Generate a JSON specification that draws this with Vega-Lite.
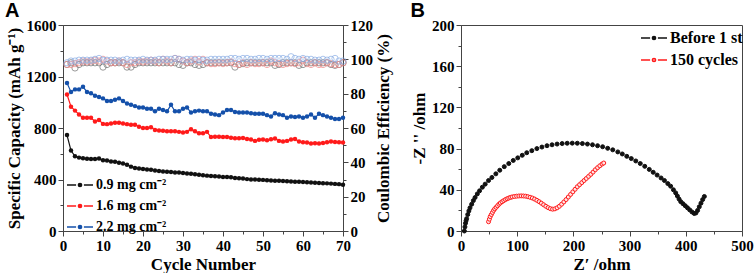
{
  "$schema": "https://vega.github.io/schema/vega-lite/v6.json",
  "padding": {"left": 4, "top": 0, "right": 5, "bottom": 0},
  "spacing": 18,
  "resolve": {"scale": {"color": "independent", "fill": "independent"}, "legend": {"color": "independent", "fill": "independent"}},
  "datasets": {
    "cap": [
      {"cycle":1,"series":"0.9 mg cm⁻²","capacity":745,"ce":97},{"cycle":2,"series":"0.9 mg cm⁻²","capacity":625,"ce":98},{"cycle":3,"series":"0.9 mg cm⁻²","capacity":580,"ce":95},{"cycle":4,"series":"0.9 mg cm⁻²","capacity":570,"ce":97},{"cycle":5,"series":"0.9 mg cm⁻²","capacity":565,"ce":98},{"cycle":6,"series":"0.9 mg cm⁻²","capacity":562,"ce":98},{"cycle":7,"series":"0.9 mg cm⁻²","capacity":560,"ce":98},{"cycle":8,"series":"0.9 mg cm⁻²","capacity":560,"ce":98},{"cycle":9,"series":"0.9 mg cm⁻²","capacity":563,"ce":98},{"cycle":10,"series":"0.9 mg cm⁻²","capacity":550,"ce":95.5},
      {"cycle":11,"series":"0.9 mg cm⁻²","capacity":548,"ce":97},{"cycle":12,"series":"0.9 mg cm⁻²","capacity":540,"ce":98},{"cycle":13,"series":"0.9 mg cm⁻²","capacity":538,"ce":98},{"cycle":14,"series":"0.9 mg cm⁻²","capacity":530,"ce":98},{"cycle":15,"series":"0.9 mg cm⁻²","capacity":525,"ce":98},{"cycle":16,"series":"0.9 mg cm⁻²","capacity":515,"ce":95.5},{"cycle":17,"series":"0.9 mg cm⁻²","capacity":500,"ce":95.5},{"cycle":18,"series":"0.9 mg cm⁻²","capacity":490,"ce":97},{"cycle":19,"series":"0.9 mg cm⁻²","capacity":485,"ce":98},{"cycle":20,"series":"0.9 mg cm⁻²","capacity":482,"ce":98},
      {"cycle":21,"series":"0.9 mg cm⁻²","capacity":478,"ce":98},{"cycle":22,"series":"0.9 mg cm⁻²","capacity":475,"ce":98},{"cycle":23,"series":"0.9 mg cm⁻²","capacity":470,"ce":98},{"cycle":24,"series":"0.9 mg cm⁻²","capacity":466,"ce":98},{"cycle":25,"series":"0.9 mg cm⁻²","capacity":462,"ce":98},{"cycle":26,"series":"0.9 mg cm⁻²","capacity":460,"ce":98},{"cycle":27,"series":"0.9 mg cm⁻²","capacity":458,"ce":98},{"cycle":28,"series":"0.9 mg cm⁻²","capacity":455,"ce":98},{"cycle":29,"series":"0.9 mg cm⁻²","capacity":455,"ce":97},{"cycle":30,"series":"0.9 mg cm⁻²","capacity":450,"ce":96.5},
      {"cycle":31,"series":"0.9 mg cm⁻²","capacity":447,"ce":98},{"cycle":32,"series":"0.9 mg cm⁻²","capacity":445,"ce":98},{"cycle":33,"series":"0.9 mg cm⁻²","capacity":440,"ce":97},{"cycle":34,"series":"0.9 mg cm⁻²","capacity":437,"ce":96.5},{"cycle":35,"series":"0.9 mg cm⁻²","capacity":433,"ce":97},{"cycle":36,"series":"0.9 mg cm⁻²","capacity":430,"ce":98},{"cycle":37,"series":"0.9 mg cm⁻²","capacity":428,"ce":98},{"cycle":38,"series":"0.9 mg cm⁻²","capacity":425,"ce":98},{"cycle":39,"series":"0.9 mg cm⁻²","capacity":423,"ce":98},{"cycle":40,"series":"0.9 mg cm⁻²","capacity":420,"ce":98},
      {"cycle":41,"series":"0.9 mg cm⁻²","capacity":420,"ce":98},{"cycle":42,"series":"0.9 mg cm⁻²","capacity":418,"ce":98},{"cycle":43,"series":"0.9 mg cm⁻²","capacity":412,"ce":95.5},{"cycle":44,"series":"0.9 mg cm⁻²","capacity":410,"ce":97},{"cycle":45,"series":"0.9 mg cm⁻²","capacity":407,"ce":97.5},{"cycle":46,"series":"0.9 mg cm⁻²","capacity":403,"ce":98},{"cycle":47,"series":"0.9 mg cm⁻²","capacity":400,"ce":98},{"cycle":48,"series":"0.9 mg cm⁻²","capacity":400,"ce":98},{"cycle":49,"series":"0.9 mg cm⁻²","capacity":398,"ce":98},{"cycle":50,"series":"0.9 mg cm⁻²","capacity":397,"ce":98},
      {"cycle":51,"series":"0.9 mg cm⁻²","capacity":395,"ce":98},{"cycle":52,"series":"0.9 mg cm⁻²","capacity":393,"ce":98},{"cycle":53,"series":"0.9 mg cm⁻²","capacity":390,"ce":96.5},{"cycle":54,"series":"0.9 mg cm⁻²","capacity":390,"ce":97},{"cycle":55,"series":"0.9 mg cm⁻²","capacity":388,"ce":98},{"cycle":56,"series":"0.9 mg cm⁻²","capacity":387,"ce":98},{"cycle":57,"series":"0.9 mg cm⁻²","capacity":385,"ce":98},{"cycle":58,"series":"0.9 mg cm⁻²","capacity":383,"ce":98},{"cycle":59,"series":"0.9 mg cm⁻²","capacity":382,"ce":96.5},{"cycle":60,"series":"0.9 mg cm⁻²","capacity":380,"ce":97},
      {"cycle":61,"series":"0.9 mg cm⁻²","capacity":378,"ce":98},{"cycle":62,"series":"0.9 mg cm⁻²","capacity":376,"ce":98},{"cycle":63,"series":"0.9 mg cm⁻²","capacity":375,"ce":98},{"cycle":64,"series":"0.9 mg cm⁻²","capacity":373,"ce":98},{"cycle":65,"series":"0.9 mg cm⁻²","capacity":371,"ce":98},{"cycle":66,"series":"0.9 mg cm⁻²","capacity":370,"ce":98},{"cycle":67,"series":"0.9 mg cm⁻²","capacity":368,"ce":97},{"cycle":68,"series":"0.9 mg cm⁻²","capacity":366,"ce":96.5},{"cycle":69,"series":"0.9 mg cm⁻²","capacity":364,"ce":97},{"cycle":70,"series":"0.9 mg cm⁻²","capacity":360,"ce":98},

      {"cycle":1,"series":"1.6 mg cm⁻²","capacity":1060,"ce":97},{"cycle":2,"series":"1.6 mg cm⁻²","capacity":965,"ce":97},{"cycle":3,"series":"1.6 mg cm⁻²","capacity":935,"ce":97.5},{"cycle":4,"series":"1.6 mg cm⁻²","capacity":905,"ce":98},{"cycle":5,"series":"1.6 mg cm⁻²","capacity":880,"ce":99},{"cycle":6,"series":"1.6 mg cm⁻²","capacity":880,"ce":98.5},{"cycle":7,"series":"1.6 mg cm⁻²","capacity":880,"ce":99},{"cycle":8,"series":"1.6 mg cm⁻²","capacity":850,"ce":99.5},{"cycle":9,"series":"1.6 mg cm⁻²","capacity":862,"ce":99},{"cycle":10,"series":"1.6 mg cm⁻²","capacity":832,"ce":100},
      {"cycle":11,"series":"1.6 mg cm⁻²","capacity":830,"ce":99},{"cycle":12,"series":"1.6 mg cm⁻²","capacity":835,"ce":98},{"cycle":13,"series":"1.6 mg cm⁻²","capacity":840,"ce":98},{"cycle":14,"series":"1.6 mg cm⁻²","capacity":840,"ce":99},{"cycle":15,"series":"1.6 mg cm⁻²","capacity":835,"ce":98},{"cycle":16,"series":"1.6 mg cm⁻²","capacity":830,"ce":97},{"cycle":17,"series":"1.6 mg cm⁻²","capacity":825,"ce":98},{"cycle":18,"series":"1.6 mg cm⁻²","capacity":825,"ce":98},{"cycle":19,"series":"1.6 mg cm⁻²","capacity":810,"ce":99},{"cycle":20,"series":"1.6 mg cm⁻²","capacity":800,"ce":98.5},
      {"cycle":21,"series":"1.6 mg cm⁻²","capacity":800,"ce":99},{"cycle":22,"series":"1.6 mg cm⁻²","capacity":805,"ce":99.5},{"cycle":23,"series":"1.6 mg cm⁻²","capacity":785,"ce":99},{"cycle":24,"series":"1.6 mg cm⁻²","capacity":780,"ce":98},{"cycle":25,"series":"1.6 mg cm⁻²","capacity":778,"ce":100},{"cycle":26,"series":"1.6 mg cm⁻²","capacity":775,"ce":99},{"cycle":27,"series":"1.6 mg cm⁻²","capacity":775,"ce":98},{"cycle":28,"series":"1.6 mg cm⁻²","capacity":775,"ce":100.5},{"cycle":29,"series":"1.6 mg cm⁻²","capacity":770,"ce":100},{"cycle":30,"series":"1.6 mg cm⁻²","capacity":765,"ce":99},
      {"cycle":31,"series":"1.6 mg cm⁻²","capacity":770,"ce":98},{"cycle":32,"series":"1.6 mg cm⁻²","capacity":790,"ce":99},{"cycle":33,"series":"1.6 mg cm⁻²","capacity":775,"ce":100},{"cycle":34,"series":"1.6 mg cm⁻²","capacity":760,"ce":98.5},{"cycle":35,"series":"1.6 mg cm⁻²","capacity":760,"ce":100},{"cycle":36,"series":"1.6 mg cm⁻²","capacity":770,"ce":98},{"cycle":37,"series":"1.6 mg cm⁻²","capacity":730,"ce":97.5},{"cycle":38,"series":"1.6 mg cm⁻²","capacity":732,"ce":97.5},{"cycle":39,"series":"1.6 mg cm⁻²","capacity":732,"ce":98},{"cycle":40,"series":"1.6 mg cm⁻²","capacity":730,"ce":97.5},
      {"cycle":41,"series":"1.6 mg cm⁻²","capacity":730,"ce":98},{"cycle":42,"series":"1.6 mg cm⁻²","capacity":725,"ce":98.5},{"cycle":43,"series":"1.6 mg cm⁻²","capacity":720,"ce":97.5},{"cycle":44,"series":"1.6 mg cm⁻²","capacity":720,"ce":97},{"cycle":45,"series":"1.6 mg cm⁻²","capacity":722,"ce":98},{"cycle":46,"series":"1.6 mg cm⁻²","capacity":715,"ce":97},{"cycle":47,"series":"1.6 mg cm⁻²","capacity":710,"ce":98},{"cycle":48,"series":"1.6 mg cm⁻²","capacity":700,"ce":97.5},{"cycle":49,"series":"1.6 mg cm⁻²","capacity":708,"ce":97.5},{"cycle":50,"series":"1.6 mg cm⁻²","capacity":710,"ce":98},
      {"cycle":51,"series":"1.6 mg cm⁻²","capacity":705,"ce":97},{"cycle":52,"series":"1.6 mg cm⁻²","capacity":712,"ce":99},{"cycle":53,"series":"1.6 mg cm⁻²","capacity":718,"ce":98},{"cycle":54,"series":"1.6 mg cm⁻²","capacity":700,"ce":97.5},{"cycle":55,"series":"1.6 mg cm⁻²","capacity":695,"ce":97},{"cycle":56,"series":"1.6 mg cm⁻²","capacity":700,"ce":97.5},{"cycle":57,"series":"1.6 mg cm⁻²","capacity":710,"ce":98},{"cycle":58,"series":"1.6 mg cm⁻²","capacity":715,"ce":97.5},{"cycle":59,"series":"1.6 mg cm⁻²","capacity":695,"ce":98},{"cycle":60,"series":"1.6 mg cm⁻²","capacity":690,"ce":99.5},
      {"cycle":61,"series":"1.6 mg cm⁻²","capacity":688,"ce":97.5},{"cycle":62,"series":"1.6 mg cm⁻²","capacity":680,"ce":97},{"cycle":63,"series":"1.6 mg cm⁻²","capacity":682,"ce":98},{"cycle":64,"series":"1.6 mg cm⁻²","capacity":680,"ce":97},{"cycle":65,"series":"1.6 mg cm⁻²","capacity":683,"ce":97},{"cycle":66,"series":"1.6 mg cm⁻²","capacity":690,"ce":98},{"cycle":67,"series":"1.6 mg cm⁻²","capacity":695,"ce":97.5},{"cycle":68,"series":"1.6 mg cm⁻²","capacity":692,"ce":97},{"cycle":69,"series":"1.6 mg cm⁻²","capacity":690,"ce":97},{"cycle":70,"series":"1.6 mg cm⁻²","capacity":688,"ce":98},

      {"cycle":1,"series":"2.2 mg cm⁻²","capacity":1150,"ce":98},{"cycle":2,"series":"2.2 mg cm⁻²","capacity":1080,"ce":99},{"cycle":3,"series":"2.2 mg cm⁻²","capacity":1100,"ce":99},{"cycle":4,"series":"2.2 mg cm⁻²","capacity":1100,"ce":99.5},{"cycle":5,"series":"2.2 mg cm⁻²","capacity":1120,"ce":99.5},{"cycle":6,"series":"2.2 mg cm⁻²","capacity":1080,"ce":99.5},{"cycle":7,"series":"2.2 mg cm⁻²","capacity":1070,"ce":99.5},{"cycle":8,"series":"2.2 mg cm⁻²","capacity":1050,"ce":100},{"cycle":9,"series":"2.2 mg cm⁻²","capacity":1040,"ce":100.5},{"cycle":10,"series":"2.2 mg cm⁻²","capacity":1030,"ce":99.5},
      {"cycle":11,"series":"2.2 mg cm⁻²","capacity":1010,"ce":99.5},{"cycle":12,"series":"2.2 mg cm⁻²","capacity":1010,"ce":99.5},{"cycle":13,"series":"2.2 mg cm⁻²","capacity":1020,"ce":99.5},{"cycle":14,"series":"2.2 mg cm⁻²","capacity":1030,"ce":99},{"cycle":15,"series":"2.2 mg cm⁻²","capacity":1010,"ce":99.5},{"cycle":16,"series":"2.2 mg cm⁻²","capacity":990,"ce":100},{"cycle":17,"series":"2.2 mg cm⁻²","capacity":980,"ce":99.5},{"cycle":18,"series":"2.2 mg cm⁻²","capacity":970,"ce":99.5},{"cycle":19,"series":"2.2 mg cm⁻²","capacity":960,"ce":99.5},{"cycle":20,"series":"2.2 mg cm⁻²","capacity":960,"ce":100},
      {"cycle":21,"series":"2.2 mg cm⁻²","capacity":950,"ce":99.5},{"cycle":22,"series":"2.2 mg cm⁻²","capacity":950,"ce":99.5},{"cycle":23,"series":"2.2 mg cm⁻²","capacity":930,"ce":99.5},{"cycle":24,"series":"2.2 mg cm⁻²","capacity":950,"ce":100},{"cycle":25,"series":"2.2 mg cm⁻²","capacity":940,"ce":100},{"cycle":26,"series":"2.2 mg cm⁻²","capacity":930,"ce":100},{"cycle":27,"series":"2.2 mg cm⁻²","capacity":980,"ce":100},{"cycle":28,"series":"2.2 mg cm⁻²","capacity":930,"ce":100.5},{"cycle":29,"series":"2.2 mg cm⁻²","capacity":930,"ce":100},{"cycle":30,"series":"2.2 mg cm⁻²","capacity":950,"ce":99.5},
      {"cycle":31,"series":"2.2 mg cm⁻²","capacity":960,"ce":100},{"cycle":32,"series":"2.2 mg cm⁻²","capacity":920,"ce":100},{"cycle":33,"series":"2.2 mg cm⁻²","capacity":930,"ce":99.5},{"cycle":34,"series":"2.2 mg cm⁻²","capacity":935,"ce":100},{"cycle":35,"series":"2.2 mg cm⁻²","capacity":930,"ce":99.5},{"cycle":36,"series":"2.2 mg cm⁻²","capacity":930,"ce":99.5},{"cycle":37,"series":"2.2 mg cm⁻²","capacity":910,"ce":100},{"cycle":38,"series":"2.2 mg cm⁻²","capacity":905,"ce":100},{"cycle":39,"series":"2.2 mg cm⁻²","capacity":900,"ce":100},{"cycle":40,"series":"2.2 mg cm⁻²","capacity":920,"ce":100},
      {"cycle":41,"series":"2.2 mg cm⁻²","capacity":940,"ce":100},{"cycle":42,"series":"2.2 mg cm⁻²","capacity":940,"ce":100.5},{"cycle":43,"series":"2.2 mg cm⁻²","capacity":925,"ce":100.5},{"cycle":44,"series":"2.2 mg cm⁻²","capacity":920,"ce":100},{"cycle":45,"series":"2.2 mg cm⁻²","capacity":920,"ce":100.5},{"cycle":46,"series":"2.2 mg cm⁻²","capacity":920,"ce":100.5},{"cycle":47,"series":"2.2 mg cm⁻²","capacity":915,"ce":100},{"cycle":48,"series":"2.2 mg cm⁻²","capacity":910,"ce":100},{"cycle":49,"series":"2.2 mg cm⁻²","capacity":910,"ce":100.5},{"cycle":50,"series":"2.2 mg cm⁻²","capacity":910,"ce":100.5},
      {"cycle":51,"series":"2.2 mg cm⁻²","capacity":900,"ce":100},{"cycle":52,"series":"2.2 mg cm⁻²","capacity":890,"ce":100.5},{"cycle":53,"series":"2.2 mg cm⁻²","capacity":915,"ce":100.5},{"cycle":54,"series":"2.2 mg cm⁻²","capacity":905,"ce":100.5},{"cycle":55,"series":"2.2 mg cm⁻²","capacity":900,"ce":100.5},{"cycle":56,"series":"2.2 mg cm⁻²","capacity":880,"ce":100},{"cycle":57,"series":"2.2 mg cm⁻²","capacity":890,"ce":101.5},{"cycle":58,"series":"2.2 mg cm⁻²","capacity":885,"ce":100.5},{"cycle":59,"series":"2.2 mg cm⁻²","capacity":890,"ce":100},{"cycle":60,"series":"2.2 mg cm⁻²","capacity":880,"ce":100.5},
      {"cycle":61,"series":"2.2 mg cm⁻²","capacity":890,"ce":100},{"cycle":62,"series":"2.2 mg cm⁻²","capacity":905,"ce":100},{"cycle":63,"series":"2.2 mg cm⁻²","capacity":880,"ce":99.5},{"cycle":64,"series":"2.2 mg cm⁻²","capacity":910,"ce":99.5},{"cycle":65,"series":"2.2 mg cm⁻²","capacity":900,"ce":100},{"cycle":66,"series":"2.2 mg cm⁻²","capacity":890,"ce":99.5},{"cycle":67,"series":"2.2 mg cm⁻²","capacity":880,"ce":100},{"cycle":68,"series":"2.2 mg cm⁻²","capacity":870,"ce":100.5},{"cycle":69,"series":"2.2 mg cm⁻²","capacity":870,"ce":99},{"cycle":70,"series":"2.2 mg cm⁻²","capacity":880,"ce":99}
    ],
    "eis": [
      {"series":"Before 1 st","zr":6,"zi":0},{"series":"Before 1 st","zr":7,"zi":4},{"series":"Before 1 st","zr":8,"zi":7.5},{"series":"Before 1 st","zr":9,"zi":10},{"series":"Before 1 st","zr":10,"zi":12},{"series":"Before 1 st","zr":12,"zi":16},{"series":"Before 1 st","zr":14,"zi":19.5},{"series":"Before 1 st","zr":16,"zi":22.5},{"series":"Before 1 st","zr":19,"zi":26},{"series":"Before 1 st","zr":22,"zi":29.5},{"series":"Before 1 st","zr":25,"zi":32.5},{"series":"Before 1 st","zr":29,"zi":36},{"series":"Before 1 st","zr":33,"zi":39},{"series":"Before 1 st","zr":38,"zi":42.5},{"series":"Before 1 st","zr":43,"zi":45.5},{"series":"Before 1 st","zr":49,"zi":49},{"series":"Before 1 st","zr":55,"zi":52},{"series":"Before 1 st","zr":62,"zi":55.5},{"series":"Before 1 st","zr":69,"zi":59},{"series":"Before 1 st","zr":77,"zi":62.5},{"series":"Before 1 st","zr":85,"zi":65.5},{"series":"Before 1 st","zr":93,"zi":68.5},{"series":"Before 1 st","zr":101,"zi":71},{"series":"Before 1 st","zr":109,"zi":73.5},{"series":"Before 1 st","zr":117,"zi":76},{"series":"Before 1 st","zr":126,"zi":78},{"series":"Before 1 st","zr":135,"zi":80},{"series":"Before 1 st","zr":144,"zi":81.5},{"series":"Before 1 st","zr":153,"zi":82.8},{"series":"Before 1 st","zr":162,"zi":83.7},{"series":"Before 1 st","zr":171,"zi":84.4},{"series":"Before 1 st","zr":180,"zi":84.9},{"series":"Before 1 st","zr":189,"zi":85.2},{"series":"Before 1 st","zr":198,"zi":85.3},{"series":"Before 1 st","zr":207,"zi":85.2},{"series":"Before 1 st","zr":216,"zi":84.9},{"series":"Before 1 st","zr":225,"zi":84.4},{"series":"Before 1 st","zr":234,"zi":83.7},{"series":"Before 1 st","zr":243,"zi":82.8},{"series":"Before 1 st","zr":252,"zi":81.8},{"series":"Before 1 st","zr":261,"zi":80.3},{"series":"Before 1 st","zr":270,"zi":78.8},{"series":"Before 1 st","zr":279,"zi":76.8},{"series":"Before 1 st","zr":287,"zi":74.8},{"series":"Before 1 st","zr":295,"zi":72.5},{"series":"Before 1 st","zr":303,"zi":70.3},{"series":"Before 1 st","zr":311,"zi":68},{"series":"Before 1 st","zr":319,"zi":65.5},{"series":"Before 1 st","zr":327,"zi":62.8},{"series":"Before 1 st","zr":335,"zi":59.8},{"series":"Before 1 st","zr":342,"zi":57},{"series":"Before 1 st","zr":349,"zi":54.3},{"series":"Before 1 st","zr":356,"zi":51.5},{"series":"Before 1 st","zr":362,"zi":49},{"series":"Before 1 st","zr":368,"zi":46},{"series":"Before 1 st","zr":373,"zi":43.5},{"series":"Before 1 st","zr":378,"zi":40},{"series":"Before 1 st","zr":382,"zi":37},{"series":"Before 1 st","zr":385,"zi":34},{"series":"Before 1 st","zr":388,"zi":31},{"series":"Before 1 st","zr":391,"zi":28.5},{"series":"Before 1 st","zr":395,"zi":26.5},{"series":"Before 1 st","zr":399,"zi":24.5},{"series":"Before 1 st","zr":403,"zi":22.5},{"series":"Before 1 st","zr":407,"zi":20.5},{"series":"Before 1 st","zr":411,"zi":18.5},{"series":"Before 1 st","zr":415,"zi":17},{"series":"Before 1 st","zr":418,"zi":17.5},{"series":"Before 1 st","zr":421,"zi":20},{"series":"Before 1 st","zr":424,"zi":23.5},{"series":"Before 1 st","zr":427,"zi":27},{"series":"Before 1 st","zr":430,"zi":30.5},{"series":"Before 1 st","zr":433,"zi":33.5},
      {"series":"150 cycles","zr":49,"zi":9},{"series":"150 cycles","zr":50.5,"zi":11.5},{"series":"150 cycles","zr":52,"zi":14},{"series":"150 cycles","zr":54,"zi":16},{"series":"150 cycles","zr":56,"zi":18},{"series":"150 cycles","zr":58,"zi":20},{"series":"150 cycles","zr":60,"zi":21.5},{"series":"150 cycles","zr":62.5,"zi":23},{"series":"150 cycles","zr":65,"zi":24.5},{"series":"150 cycles","zr":67.5,"zi":26},{"series":"150 cycles","zr":70,"zi":27.2},{"series":"150 cycles","zr":73,"zi":28.4},{"series":"150 cycles","zr":76,"zi":29.5},{"series":"150 cycles","zr":79,"zi":30.5},{"series":"150 cycles","zr":82,"zi":31.3},{"series":"150 cycles","zr":85,"zi":32},{"series":"150 cycles","zr":88,"zi":32.6},{"series":"150 cycles","zr":91,"zi":33.1},{"series":"150 cycles","zr":95,"zi":33.5},{"series":"150 cycles","zr":99,"zi":33.8},{"series":"150 cycles","zr":103,"zi":34},{"series":"150 cycles","zr":107,"zi":34.1},{"series":"150 cycles","zr":111,"zi":34},{"series":"150 cycles","zr":115,"zi":33.8},{"series":"150 cycles","zr":119,"zi":33.3},{"series":"150 cycles","zr":123,"zi":32.7},{"series":"150 cycles","zr":127,"zi":32},{"series":"150 cycles","zr":131,"zi":31},{"series":"150 cycles","zr":135,"zi":29.8},{"series":"150 cycles","zr":139,"zi":28.5},{"series":"150 cycles","zr":143,"zi":27},{"series":"150 cycles","zr":147,"zi":25.5},{"series":"150 cycles","zr":151,"zi":24},{"series":"150 cycles","zr":155,"zi":22.7},{"series":"150 cycles","zr":159,"zi":21.7},{"series":"150 cycles","zr":163,"zi":21.2},{"series":"150 cycles","zr":167,"zi":21.5},{"series":"150 cycles","zr":171,"zi":22.5},{"series":"150 cycles","zr":175,"zi":24},{"series":"150 cycles","zr":179,"zi":26},{"series":"150 cycles","zr":183,"zi":28.2},{"series":"150 cycles","zr":187,"zi":30.5},{"series":"150 cycles","zr":191,"zi":33},{"series":"150 cycles","zr":195,"zi":35.5},{"series":"150 cycles","zr":199,"zi":38},{"series":"150 cycles","zr":203,"zi":40.5},{"series":"150 cycles","zr":207,"zi":43},{"series":"150 cycles","zr":211,"zi":45},{"series":"150 cycles","zr":215,"zi":47},{"series":"150 cycles","zr":219,"zi":49},{"series":"150 cycles","zr":223,"zi":51},{"series":"150 cycles","zr":227,"zi":53},{"series":"150 cycles","zr":231,"zi":55},{"series":"150 cycles","zr":235,"zi":57.2},{"series":"150 cycles","zr":239,"zi":59.5},{"series":"150 cycles","zr":243,"zi":61.5},{"series":"150 cycles","zr":247,"zi":63.3},{"series":"150 cycles","zr":251,"zi":65},{"series":"150 cycles","zr":254,"zi":66}
    ]
  },
  "hconcat": [
    {
      "width": 280,
      "height": 206,
      "title": {"text": "A"},
      "data": {"name": "cap"},
      "encoding": {
        "x": {"field": "cycle", "type": "quantitative", "scale": {"domain": [0, 70]},
              "axis": {"title": "Cycle Number", "values": [0,5,10,15,20,25,30,35,40,45,50,55,60,65,70],
                       "labelExpr": "datum.value % 10 === 0 ? datum.label : ''", "labelOverlap": false, "labelFlush": false,
                       "tickSize": {"condition": {"test": "datum.value % 10 === 0", "value": 5}, "value": 3}}}
      },
      "layer": [
        {
          "mark": {"type": "point", "filled": false, "size": 40, "strokeWidth": 1},
          "encoding": {
            "y": {"field": "ce", "type": "quantitative", "scale": {"domain": [0, 120]},
                  "axis": {"orient": "right", "title": "Coulombic Efficiency (%)", "titleAngle": 270, "titleBaseline": "top",
                           "values": [0,10,20,30,40,50,60,70,80,90,100,110,120], "labelOverlap": false, "labelFlush": false,
                           "labelExpr": "datum.value % 20 === 0 ? datum.label : ''",
                           "tickSize": {"condition": {"test": "datum.value % 20 === 0", "value": 5}, "value": 3}}},
            "color": {"field": "series", "type": "nominal", "legend": null,
                      "scale": {"range": ["#707070", "#f28888", "#8aaee6"]}}
          }
        },
        {
          "mark": {"type": "line", "strokeWidth": 1.2, "point": {"filled": true, "size": 20}},
          "encoding": {
            "y": {"field": "capacity", "type": "quantitative", "scale": {"domain": [0, 1600]},
                  "axis": {"title": "Specific Capacity (mAh g⁻¹)", "values": [0,200,400,600,800,1000,1200,1400,1600],
                           "format": "d", "labelOverlap": false, "labelFlush": false,
                           "labelExpr": "datum.value % 400 === 0 ? datum.label : ''",
                           "tickSize": {"condition": {"test": "datum.value % 400 === 0", "value": 5}, "value": 3}}},
            "color": {"field": "series", "type": "nominal",
                      "scale": {"range": ["#111111", "#ff1a1a", "#1450aa"]},
                      "legend": {"title": null, "orient": "none", "legendX": 3, "legendY": 146, "labelFontSize": 14,
                                 "symbolSize": 676, "rowPadding": -1.5}}
          }
        }
      ],
      "resolve": {"scale": {"y": "independent", "color": "independent"}}
    },
    {
      "width": 281,
      "height": 206,
      "title": {"text": "B"},
      "data": {"name": "eis"},
      "mark": {"type": "point", "filled": false, "size": 16, "strokeWidth": 1, "opacity": 1},
      "encoding": {
        "x": {"field": "zr", "type": "quantitative", "scale": {"domain": [0, 500]},
              "axis": {"title": "Z′  /ohm", "values": [0,50,100,150,200,250,300,350,400,450,500],
                       "labelOverlap": false, "labelFlush": false,
                       "labelExpr": "datum.value % 100 === 0 ? datum.label : ''",
                       "tickSize": {"condition": {"test": "datum.value % 100 === 0", "value": 5}, "value": 3}}},
        "y": {"field": "zi", "type": "quantitative", "scale": {"domain": [0, 200]},
              "axis": {"title": "-Z '' /ohm", "values": [0,20,40,60,80,100,120,140,160,180,200],
                       "labelOverlap": false, "labelFlush": false,
                       "labelExpr": "datum.value % 40 === 0 ? datum.label : ''",
                       "tickSize": {"condition": {"test": "datum.value % 40 === 0", "value": 5}, "value": 3}}},
        "color": {"field": "series", "type": "nominal", "sort": ["Before 1 st", "150 cycles"],
                  "scale": {"domain": ["Before 1 st", "150 cycles"], "range": ["#111111", "#ff1a1a"]},
                  "legend": {"title": null, "orient": "top-right", "offset": -1, "labelFontSize": 16,
                             "symbolSize": 676, "rowPadding": 0}},
        "fill": {"field": "series", "type": "nominal", "legend": null,
                 "scale": {"domain": ["Before 1 st", "150 cycles"], "range": ["#111111", "#ffe4e4"]}}
      }
    }
  ],
  "config": {
    "font": "Liberation Serif",
    "view": {"stroke": "#444", "strokeWidth": 1},
    "axis": {"grid": false, "labelFont": "Liberation Serif", "labelFontWeight": "bold", "labelFontSize": 15,
             "labelColor": "#000", "labelOverlap": false, "labelPadding": 2,
             "titleFont": "Liberation Serif", "titleFontWeight": "bold", "titleFontSize": 17, "titleColor": "#000",
             "titlePadding": 3, "domainColor": "#444", "tickColor": "#444"},
    "legend": {"labelFont": "Liberation Serif", "labelFontWeight": "bold", "labelColor": "#000",
               "symbolType": "M-1,0L-0.3,0M0.3,0L1,0M-0.12,0A0.12,0.12,0,1,1,0.12,0A0.12,0.12,0,1,1,-0.12,0Z",
               "symbolStrokeWidth": 1.6, "symbolBaseFillColor": "transparent", "labelOffset": 2, "padding": 0},
    "title": {"font": "Liberation Sans", "fontWeight": "bold", "fontSize": 20, "anchor": "start", "color": "#000", "offset": -3}
  }
}
